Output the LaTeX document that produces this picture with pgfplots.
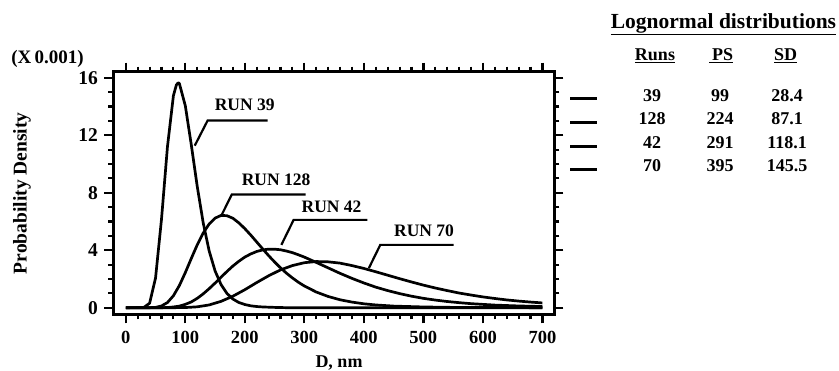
\documentclass[border=0pt]{standalone}
\usepackage{fontspec}
\setmainfont{Liberation Serif}
\usepackage{pgfplots}
\pgfplotsset{compat=1.18}
\begin{document}
\begin{tikzpicture}[x=1pt,y=1pt,font=\bfseries]
\path[use as bounding box] (0,0) rectangle (839,371);
\begin{axis}[
  at={(113.3pt,56.7pt)}, anchor=south west,
  width=441pt, height=242.6pt, scale only axis,
  xmin=-21, xmax=720, ymin=-0.46, ymax=16.42,
  xtick={0,100,200,300,400,500,600,700},
  xticklabels={0,100,200,300,400,500,600,700},
  ytick={0,4,8,12,16},
  yticklabels={0,4,8,12,16},
  minor x tick num=4, minor y tick num=3,
  tick align=outside,
  major tick length=9pt, minor tick length=5pt,
  major tick style={line width=2.3pt,black},
  minor tick style={line width=2.1pt,black},
  axis line style={line width=2.8pt,black},
  xticklabel style={font=\fontsize{18.5}{19}\selectfont\bfseries, yshift=-4.5pt},
  yticklabel style={font=\fontsize{19.5}{20}\selectfont\bfseries, xshift=-3pt},
  clip=false,
]
% RUN 39
\addplot[black,no markers,line width=2.7pt,line join=round] coordinates {(0,0) (30,0.01) (40,0.31) (50,2.07) (60,6.16) (70,11.2) (80,14.75) (85,15.5) (88,15.65) (90,15.6) (100,14.05) (110,11.35) (120,8.45) (130,5.92) (140,3.96) (150,2.56) (160,1.61) (170,0.99) (180,0.60) (190,0.36) (200,0.22) (210,0.13) (220,0.08) (230,0.05) (250,0.02) (270,0) (700,0)};
% RUN 128
\addplot[black,no markers,line width=2.7pt,line join=round] coordinates {(0,0) (40,0) (50,0.02) (60,0.12) (70,0.36) (80,0.83) (90,1.54) (100,2.44) (110,3.42) (120,4.37) (130,5.19) (140,5.82) (150,6.23) (160,6.42) (170,6.40) (180,6.22) (190,5.90) (200,5.50) (210,5.05) (220,4.57) (230,4.09) (240,3.62) (250,3.18) (260,2.77) (270,2.40) (280,2.07) (290,1.77) (300,1.51) (320,1.09) (340,0.78) (360,0.55) (380,0.39) (400,0.27) (420,0.19) (450,0.11) (500,0.05) (550,0.02) (600,0.01) (700,0)};
% RUN 42
\addplot[black,no markers,line width=2.7pt,line join=round] coordinates {(0,0) (60,0) (70,0.01) (80,0.05) (90,0.11) (100,0.23) (110,0.40) (120,0.65) (130,0.96) (140,1.32) (150,1.71) (160,2.12) (170,2.52) (180,2.90) (190,3.23) (200,3.52) (210,3.74) (220,3.91) (230,4.02) (240,4.07) (250,4.07) (260,4.03) (270,3.94) (280,3.83) (290,3.68) (300,3.52) (320,3.15) (340,2.77) (360,2.39) (380,2.04) (400,1.72) (420,1.43) (440,1.19) (460,0.98) (480,0.80) (500,0.65) (520,0.53) (540,0.43) (560,0.35) (580,0.28) (600,0.23) (620,0.18) (640,0.15) (660,0.12) (680,0.10) (700,0.08)};
% RUN 70
\addplot[black,no markers,line width=2.7pt,line join=round] coordinates {(0,0) (80,0) (100,0.01) (120,0.06) (140,0.19) (160,0.44) (180,0.80) (200,1.25) (220,1.75) (240,2.22) (260,2.63) (280,2.93) (300,3.13) (320,3.21) (340,3.19) (360,3.10) (380,2.93) (400,2.73) (420,2.50) (440,2.26) (460,2.02) (480,1.79) (500,1.57) (520,1.37) (540,1.19) (560,1.02) (580,0.88) (600,0.75) (620,0.64) (640,0.54) (660,0.46) (680,0.39) (700,0.33)};
% labels
\draw[line width=2.2pt] (axis cs:115.8,11.27) -- (axis cs:137.6,13.03) -- (axis cs:238.4,13.03);
\node[font=\fontsize{17.5}{18}\selectfont\bfseries] at (axis cs:199.8,14.13) {RUN 39};
\draw[line width=2.2pt] (axis cs:160.6,6.41) -- (axis cs:178,7.87) -- (axis cs:302,7.87);
\node[font=\fontsize{17.5}{18}\selectfont\bfseries] at (axis cs:252.6,8.9) {RUN 128};
\draw[line width=2.2pt] (axis cs:261.4,4.37) -- (axis cs:282,6.11) -- (axis cs:406,6.11);
\node[font=\fontsize{17.5}{18}\selectfont\bfseries] at (axis cs:345.8,7.04) {RUN 42};
\draw[line width=2.2pt] (axis cs:408.4,2.75) -- (axis cs:427.6,4.37) -- (axis cs:551,4.37);
\node[font=\fontsize{17.5}{18}\selectfont\bfseries] at (axis cs:501.1,5.34) {RUN 70};
\end{axis}
% outside texts
\node[font=\fontsize{19}{19}\selectfont\bfseries] at (47.5,312) {(X\,0.001)};
\node[font=\fontsize{19.5}{20}\selectfont\bfseries, rotate=90] at (22,177.7) {Probability Density};
\node[font=\fontsize{18}{18}\selectfont\bfseries] at (339,8) {D, nm};
% table
\node[anchor=base, font=\fontsize{21.5}{22}\selectfont\bfseries] at (723.5,342.7) {\underline{Lognormal distributions}};
\begin{scope}[every node/.style={anchor=base, font=\fontsize{18}{18}\selectfont\bfseries}]
\node at (655,310) {\underline{Runs}};
\node at (721,310) {\underline{\,PS}};
\node at (785.5,310) {\underline{SD}};
\node at (652,269.3) {39};   \node at (720,269.3) {99};  \node at (787,269.3) {28.4};
\node at (652,246) {128};    \node at (720,246) {224};   \node at (787,246) {87.1};
\node at (652,222.3) {42};   \node at (720,222.3) {291}; \node at (787,222.3) {118.1};
\node at (652,199.3) {70};   \node at (720,199.3) {395}; \node at (787,199.3) {145.5};
\end{scope}
\draw[line width=3pt] (570,272) -- (597,272);
\draw[line width=3pt] (570,248.5) -- (597,248.5);
\draw[line width=3pt] (570,224.5) -- (597,224.5);
\draw[line width=3pt] (570,201) -- (597,201);
\end{tikzpicture}
\end{document}
